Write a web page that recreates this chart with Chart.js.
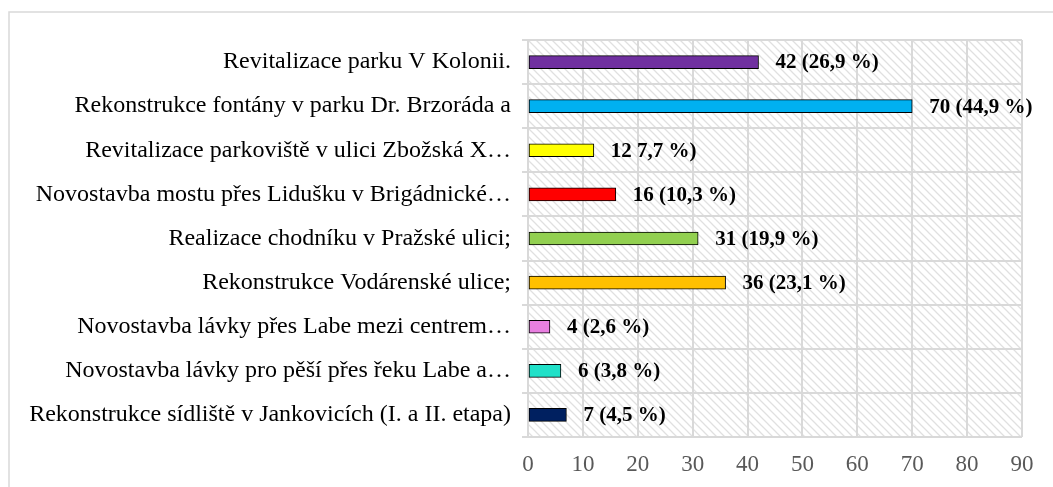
<!DOCTYPE html>
<html>
<head>
<meta charset="utf-8">
<script src="https://cdn.jsdelivr.net/npm/chart.js@4.4.1/dist/chart.umd.min.js"></script>
<style>
  html, body { margin: 0; padding: 0; background: #fff; }
  #wrap { position: relative; width: 1053px; height: 487px; }
</style>
</head>
<body>
<div id="wrap"><canvas id="myChart" width="1053" height="487"></canvas></div>
<script>
// data, top to bottom
var categories = [
  "Revitalizace parku V Kolonii.",
  "Rekonstrukce fontány v parku Dr. Brzoráda a",
  "Revitalizace parkoviště v ulici Zbožská X…",
  "Novostavba mostu přes Lidušku v Brigádnické…",
  "Realizace chodníku v Pražské ulici;",
  "Rekonstrukce Vodárenské ulice;",
  "Novostavba lávky přes Labe mezi centrem…",
  "Novostavba lávky pro pěší přes řeku Labe a…",
  "Rekonstrukce sídliště v Jankovicích (I. a II. etapa)"
];
var votes = [42, 70, 12, 16, 31, 36, 4, 6, 7];
var valueLabels = ["42 (26,9 %)", "70 (44,9 %)", "12 7,7 %)", "16 (10,3 %)", "31 (19,9 %)",
                   "36 (23,1 %)", "4 (2,6 %)", "6 (3,8 %)", "7 (4,5 %)"];
var barColors = ["#7030A0", "#00B0F0", "#FFFF00", "#FF0000", "#92D050",
                 "#FFC000", "#E87FE0", "#20E0C8", "#002060"];
var xTicks = [0, 10, 20, 30, 40, 50, 60, 70, 80, 90];

var FONT = "'Liberation Serif', 'Times New Roman', serif";

// diagonal hatch for the plot background
function makeHatch() {
  var s = 8;
  var c = document.createElement('canvas');
  c.width = s; c.height = s;
  var g = c.getContext('2d');
  g.fillStyle = '#fff';
  g.fillRect(0, 0, s, s);
  g.strokeStyle = '#e0e0e0';
  g.lineWidth = 1.3;
  g.beginPath();
  g.moveTo(-1, -1); g.lineTo(s + 1, s + 1);
  g.moveTo(-s - 1, -1); g.lineTo(1, s + 1);
  g.moveTo(s - 1, -1); g.lineTo(2 * s + 1, s + 1);
  g.stroke();
  return g.createPattern(c, 'repeat');
}

var bgPlugin = {
  id: 'bg',
  beforeDraw: function(chart) {
    var ctx = chart.ctx, a = chart.chartArea;
    ctx.save();
    ctx.fillStyle = '#fff';
    ctx.fillRect(0, 0, chart.width, chart.height);
    // outer frame (runs off the right/bottom edge)
    ctx.strokeStyle = '#d9d9d9';
    ctx.lineWidth = 1.5;
    ctx.strokeRect(9, 12, chart.width + 20, chart.height + 20);
    ctx.fillStyle = makeHatch();
    ctx.fillRect(a.left, a.top, a.right - a.left, a.bottom - a.top);
    ctx.restore();
  }
};

var labelPlugin = {
  id: 'valLabels',
  afterDatasetsDraw: function(chart) {
    var ctx = chart.ctx;
    var meta = chart.getDatasetMeta(0);
    ctx.save();
    ctx.font = "bold 21px " + FONT;
    ctx.fillStyle = '#000';
    ctx.textAlign = 'left';
    ctx.textBaseline = 'middle';
    meta.data.forEach(function(bar, i) {
      ctx.fillText(valueLabels[i], bar.x + 17, bar.y + 1);
    });
    ctx.restore();
  }
};

var ctx = document.getElementById('myChart').getContext('2d');
var myChart = new Chart(ctx, {
  type: 'bar',
  data: {
    labels: categories,
    datasets: [{
      data: votes,
      backgroundColor: barColors,
      borderColor: '#000',
      borderWidth: 1,
      borderSkipped: false,
      barThickness: 13
    }]
  },
  options: {
    indexAxis: 'y',
    responsive: false,
    animation: false,
    layout: { padding: { top: 40, right: 31, bottom: 0, left: 0 } },
    plugins: { legend: { display: false }, tooltip: { enabled: false } },
    scales: {
      x: {
        min: 0, max: 90,
        afterBuildTicks: function(scale) {
          scale.ticks = xTicks.map(function(v) { return { value: v }; });
        },
        afterFit: function(scale) { scale.height = 50; },
        grid: { color: '#d9d9d9', lineWidth: 2, drawTicks: false },
        border: { display: false },
        ticks: { padding: 14, color: '#595959', font: { family: FONT, size: 23 } }
      },
      y: {
        afterFit: function(scale) { scale.width = 528; },
        grid: { color: '#d9d9d9', lineWidth: 2, drawTicks: true, tickLength: 6, offset: true },
        border: { display: false },
        ticks: { padding: 11, color: '#000', font: { family: FONT, size: 24 }, autoSkip: false }
      }
    }
  },
  plugins: [bgPlugin, labelPlugin]
});
</script>
</body>
</html>
